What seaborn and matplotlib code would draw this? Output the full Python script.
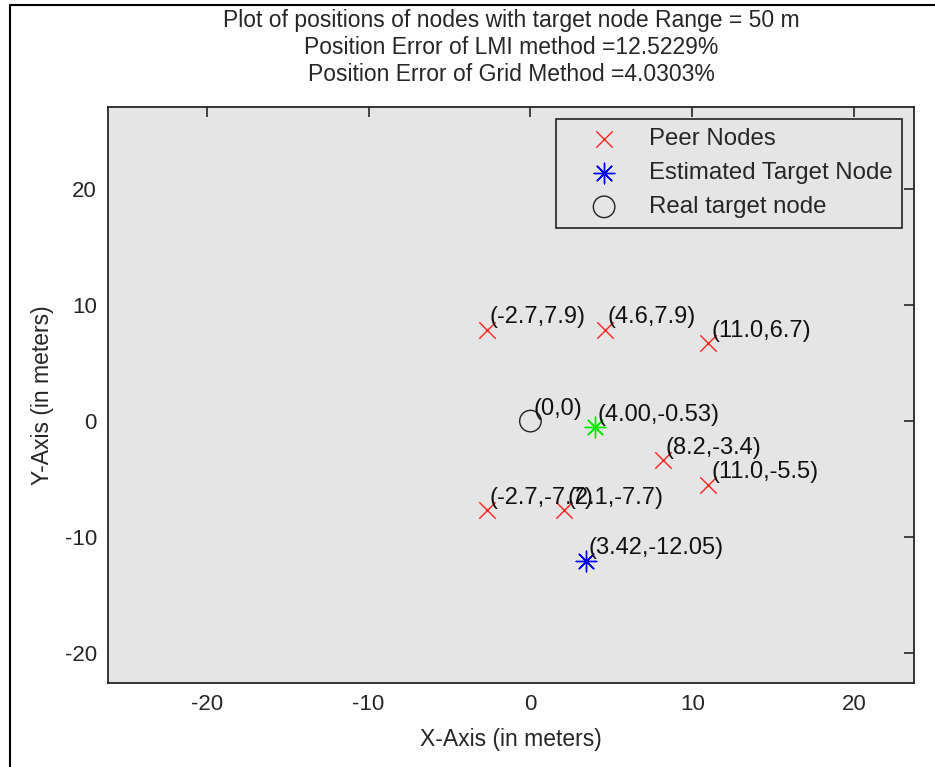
import matplotlib
matplotlib.use("Agg")
import matplotlib.pyplot as plt
import seaborn as sns
import pandas as pd
from matplotlib.lines import Line2D

# ---- data ----
peer_x = [-2.7, 4.6, 11.0, 8.2, 11.0, -2.7, 2.1]
peer_y = [7.9, 7.9, 6.7, -3.4, -5.5, -7.7, -7.7]
est_x = [3.42]
est_y = [-12.05]
grid_x = [4.00]
grid_y = [-0.53]
real_x = [0.0]
real_y = [0.0]

peer_labels = ["(-2.7,7.9)", "(4.6,7.9)", "(11.0,6.7)", "(8.2,-3.4)",
               "(11.0,-5.5)", "(-2.7,-7.7)", "(2.1,-7.7)"]
est_labels = ["(3.42,-12.05)"]
grid_labels = ["(4.00,-0.53)"]
real_labels = ["(0,0)"]

title_lines = ["Plot of positions of nodes with target node Range = 50 m",
               "Position Error of LMI method =12.5229%",
               "Position Error of Grid Method =4.0303%"]
xticks = [-20, -10, 0, 10, 20]
yticks = [-20, -10, 0, 10, 20]
xlim = (-26.1, 23.7)
ylim = (-22.6, 27.1)

sns.set_theme(style="white")
plt.rcParams['font.family'] = ['Liberation Sans', 'DejaVu Sans']
plt.rcParams['axes.unicode_minus'] = False

fig = plt.figure(figsize=(9.35, 7.67), dpi=100)
ax = fig.add_axes([108/935, 1-683/767, (914-108)/935, (683-107)/767])
ax.set_facecolor("#e5e5e5")

peer_df = pd.DataFrame({"x": peer_x, "y": peer_y})
est_df = pd.DataFrame({"x": est_x, "y": est_y})
grid_df = pd.DataFrame({"x": grid_x, "y": grid_y})
real_df = pd.DataFrame({"x": real_x, "y": real_y})

sns.scatterplot(data=peer_df, x="x", y="y", marker="x", color="#ff2020",
                s=140, linewidth=1.0, ax=ax, label="Peer Nodes", zorder=3)
sns.scatterplot(data=est_df, x="x", y="y", marker=(8, 2, 0), color="blue",
                s=220, linewidth=1.0, ax=ax, label="Estimated Target Node", zorder=3)
sns.scatterplot(data=real_df, x="x", y="y", marker="o", facecolor="none",
                edgecolor="#222222", s=240, linewidth=1.0, ax=ax,
                label="Real target node", zorder=3)
sns.scatterplot(data=grid_df, x="x", y="y", marker=(8, 2, 0), color="#00ee00",
                s=220, linewidth=1.0, ax=ax, legend=False, zorder=3)

def label_points(xs, ys, labels):
    for xv, yv, t in zip(xs, ys, labels):
        ax.annotate(t, (xv, yv), xytext=(2, 9), textcoords="offset points",
                    ha="left", va="center", fontsize=17, color="#111111",
                    zorder=4)

label_points(peer_x, peer_y, peer_labels)
label_points(est_x, est_y, est_labels)
label_points(grid_x, grid_y, grid_labels)
label_points(real_x, real_y, real_labels)

ax.set_xlim(*xlim)
ax.set_ylim(*ylim)
ax.set_xticks(xticks)
ax.set_yticks(yticks)
ax.tick_params(axis="both", which="both", direction="in", length=7, width=1.2,
               top=True, right=True, labelsize=16, colors="#262626",
               pad=8)
for sp in ax.spines.values():
    sp.set_visible(True)
    sp.set_color("#262626")
    sp.set_linewidth(1.3)

ax.set_xlabel("X-Axis (in meters)", fontsize=16.5, color="#262626", labelpad=9)
ax.set_ylabel("Y-Axis (in meters)", fontsize=16.5, color="#262626", labelpad=8)
ax.set_title("\n".join(title_lines), fontsize=16.5, color="#262626",
             linespacing=1.2, pad=19)

leg = ax.legend(loc="upper right", bbox_to_anchor=(0.985, 0.98), fontsize=17.3,
                frameon=True, fancybox=False, facecolor="#e5e5e5",
                edgecolor="#222222", framealpha=1, borderpad=0.4,
                labelspacing=0.5, handlelength=3.2, handletextpad=0.25,
                borderaxespad=0.0)
leg.get_frame().set_linewidth(1.2)

# figure frame lines (left and top)
fig.add_artist(Line2D([10/935, 10/935], [0, 1-5/767], color="black",
                      linewidth=1.5, transform=fig.transFigure))
fig.add_artist(Line2D([10/935, 1], [1-5/767, 1-5/767], color="black",
                      linewidth=1.5, transform=fig.transFigure))

fig.savefig("out.png", dpi=100, facecolor="white")
